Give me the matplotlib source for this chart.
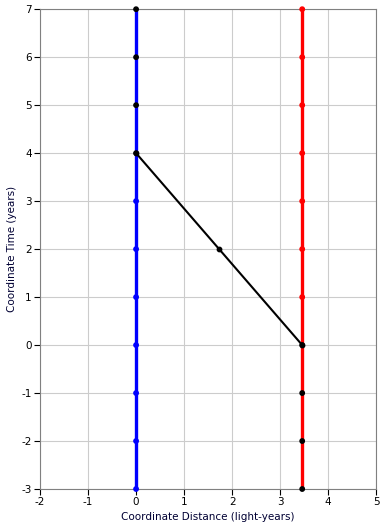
import matplotlib.pyplot as plt

plt.rcParams['axes.unicode_minus'] = False

# world lines
blue_x = [0] * 11
blue_t = [-3, -2, -1, 0, 1, 2, 3, 4, 5, 6, 7]
blue_colors = ['blue'] * 7 + ['black'] * 4

red_x = [3.46] * 11
red_t = [-3, -2, -1, 0, 1, 2, 3, 4, 5, 6, 7]
red_colors = ['black'] * 4 + ['red'] * 7

path_x = [0, 1.73, 3.46]
path_t = [4, 2, 0]


def main():
    fig = plt.figure(figsize=(3.85, 5.29), dpi=100)
    ax = fig.add_axes([0.104, 0.0756, 0.873, 0.907])

    ax.plot(blue_x, blue_t, color='blue', lw=2.4, zorder=2)
    ax.plot(red_x, red_t, color='red', lw=2.4, zorder=2)
    ax.plot(path_x, path_t, color='black', lw=1.5, zorder=3)

    ax.scatter(blue_x, blue_t, c=blue_colors, marker='o', s=10, zorder=4, clip_on=False)
    ax.scatter(red_x, red_t, c=red_colors, marker='o', s=10, zorder=4, clip_on=False)
    ax.scatter(path_x, path_t, c='black', marker='o', s=10, zorder=4)

    ax.set_xlim(-2, 5)
    ax.set_ylim(-3, 7)
    ax.set_xticks(range(-2, 6))
    ax.set_yticks(range(-3, 8))
    ax.grid(True, color='#cccccc', lw=0.8)
    ax.set_axisbelow(True)

    for s in ax.spines.values():
        s.set_color('#808080')
    ax.tick_params(direction='out', length=4, color='black', labelsize=7.5, pad=2)

    ax.set_xlabel('Coordinate Distance (light-years)', fontsize=7.5, color='#000033', labelpad=3)
    ax.set_ylabel('Coordinate Time (years)', fontsize=7.5, color='#000033', labelpad=3)

    fig.savefig('out.png', dpi=100)


if __name__ == "__main__":
    main()
